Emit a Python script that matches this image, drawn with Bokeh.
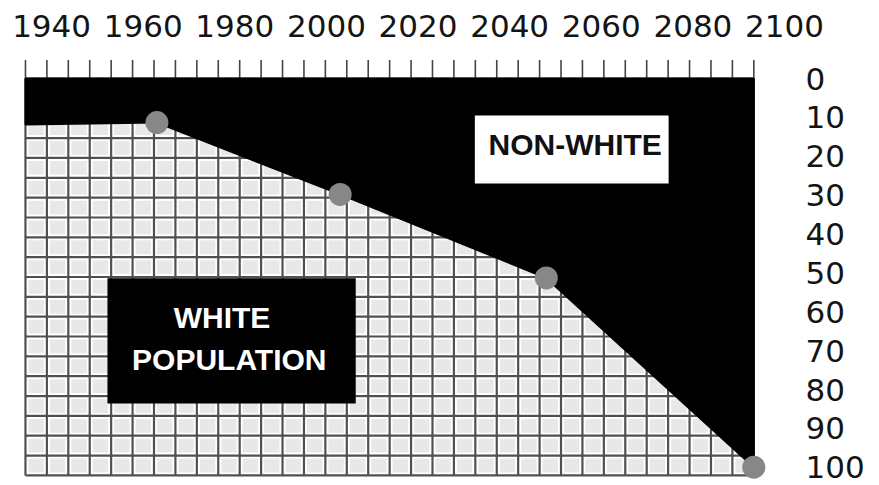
import numpy as np
from bokeh.plotting import figure
from bokeh.models import Range1d, BoxAnnotation, Label, FixedTicker
from bokeh.embed import file_html
from bokeh.resources import INLINE

# ---- data -------------------------------------------------------------
year_ticks = [1940, 1960, 1980, 2000, 2020, 2040, 2060, 2080, 2100]
share_ticks = [0, 10, 20, 30, 40, 50, 60, 70, 80, 90, 100]

# non-white share (percent, axis counted downward from the top)
point_years = [1963, 2003, 2048, 2093.3]
point_nonwhite = [11.3, 29.8, 51.3, 100]

# start of the boundary at the left edge of the chart box
start_year = 1934.3
start_nonwhite = 11.8

# extent of the chart box
box_year_end = 2093.3
box_share_end = 102.1

# ---- figure -------------------------------------------------------------
p = figure(width=870, height=485,
           x_range=Range1d(1928.85, 2102.4), y_range=Range1d(104.7, -6.2),
           x_axis_location="above", y_axis_location="right",
           toolbar_location=None, output_backend="svg",
           min_border_left=0, min_border_right=75,
           min_border_top=54, min_border_bottom=0)
p.outline_line_color = None
p.xgrid.visible = False
p.ygrid.visible = False
p.background_fill_color = "white"
p.border_fill_color = "white"

for ax, ticks in ((p.xaxis, year_ticks), (p.yaxis, share_ticks)):
    ax.ticker = FixedTicker(ticks=ticks)
    ax.axis_line_color = None
    ax.major_tick_line_color = None
    ax.minor_tick_line_color = None
    ax.major_tick_out = 0
    ax.major_tick_in = 0
    ax.major_label_text_font = "DejaVu Sans"
    ax.major_label_text_font_size = "31px"
    ax.major_label_text_color = "#141414"
p.xaxis.major_label_standoff = 18
p.yaxis.major_label_standoff = 10

# ---- chart box with checkered grid -------------------------------------
p.quad(left=start_year, right=box_year_end, top=0, bottom=box_share_end,
       fill_color="#e8e8e8", line_color=None)

vx = np.linspace(start_year, box_year_end, 35)
hy = np.linspace(0, box_share_end, 21)
xs = [[x, x] for x in vx] + [[start_year, box_year_end] for _ in hy]
ys = [[0, box_share_end] for _ in vx] + [[y, y] for y in hy]
p.multi_line(xs, ys, line_color="white", line_width=6)
p.multi_line(xs, ys, line_color="#505050", line_width=2.2)

# small ticks along the top
p.segment(x0=vx, y0=[-4.8] * len(vx), x1=vx, y1=[0] * len(vx),
          line_color="#444444", line_width=1.6)

# ---- non-white area ----------------------------------------------------
black_x = [start_year, box_year_end] + point_years[::-1] + [start_year]
black_y = [0, 0] + point_nonwhite[::-1] + [start_nonwhite]
p.patch(black_x, black_y, fill_color="black", line_color="black", line_width=2)

p.scatter(point_years, point_nonwhite, size=23, fill_color="#878787",
          line_color=None)

# ---- label boxes --------------------------------------------------------
p.add_layout(BoxAnnotation(left=2032.4, right=2074.7, top=9.5, bottom=27.0,
                           fill_color="white", fill_alpha=1, line_color=None))
p.add_layout(BoxAnnotation(left=1952.2, right=2006.4, top=51.4, bottom=83.6,
                           fill_color="black", fill_alpha=1, line_color=None))

common = dict(text_align="center", text_baseline="middle",
              text_font="Liberation Sans", text_font_style="bold",
              text_font_size="30px")
p.add_layout(Label(x=2054.3, y=17.0, text="NON-WHITE", text_color="#111111", **common))
p.add_layout(Label(x=1977.2, y=61.6, text="WHITE", text_color="white", **common))
p.add_layout(Label(x=1978.8, y=72.3, text="POPULATION", text_color="white", **common))

open("out.html", "w").write(file_html(p, INLINE))
